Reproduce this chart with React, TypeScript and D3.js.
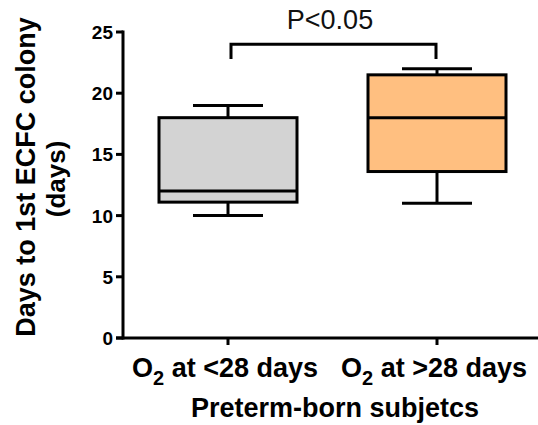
import React from 'react';
import * as d3 from 'd3';

// groups and five-number summaries
const groups = ['<28', '>28'];
const whiskerLow = [10, 11];
const q1 = [11.1, 13.6];
const median = [12, 18];
const q3 = [18, 21.5];
const whiskerHigh = [19, 22];
const fills = ['#d3d3d3', '#ffbf80'];
const yTicks = [0, 5, 10, 15, 20, 25];

const W = 538;
const H = 425;
const font = 'Liberation Sans, Arial, sans-serif';

const App = () => {
    const x = d3.scalePoint<string>().domain(groups).range([228, 437]);
    const y = d3.scaleLinear().domain([0, 25]).range([338, 32]);
    const boxW = 138;
    const capW = 70;

    return (
        <svg width={W} height={H} style={{ display: 'block', position: 'absolute', left: 0, top: 0 }}>
            <rect width={W} height={H} fill="#fff" />
            {/* Y axis */}
            <line x1={123} x2={123} y1={y(25) - 1.5} y2={y(0) + 1.5} stroke="#000" strokeWidth={3} />
            {yTicks.map(t => (
                <g key={t}>
                    <line x1={116} x2={123} y1={y(t)} y2={y(t)} stroke="#000" strokeWidth={3} />
                    <text x={113} y={y(t) + 7} textAnchor="end" fontFamily={font} fontWeight="bold" fontSize={19}>{t}</text>
                </g>
            ))}
            {/* X axis */}
            <line x1={116} x2={538} y1={y(0)} y2={y(0)} stroke="#000" strokeWidth={3} />
            {groups.map((g, i) => (
                <g key={g}>
                    <line x1={x(g)} x2={x(g)} y1={y(0)} y2={y(0) + 7} stroke="#000" strokeWidth={3} />
                    <text x={(x(g) as number) - 3} y={377} textAnchor="middle" fontFamily={font} fontWeight="bold" fontSize={27}>
                        O<tspan fontSize={20} dy={8}>2</tspan><tspan dy={-8}> at {g} days</tspan>
                    </text>
                </g>
            ))}
            {/* boxes */}
            {groups.map((g, i) => {
                const cx = x(g) as number;
                return (
                    <g key={g} stroke="#000" strokeWidth={3}>
                        <line x1={cx} x2={cx} y1={y(whiskerHigh[i])} y2={y(q3[i])} />
                        <line x1={cx} x2={cx} y1={y(q1[i])} y2={y(whiskerLow[i])} />
                        <line x1={cx - capW / 2} x2={cx + capW / 2} y1={y(whiskerHigh[i])} y2={y(whiskerHigh[i])} />
                        <line x1={cx - capW / 2} x2={cx + capW / 2} y1={y(whiskerLow[i])} y2={y(whiskerLow[i])} />
                        <rect x={cx - boxW / 2} y={y(q3[i])} width={boxW} height={y(q1[i]) - y(q3[i])} fill={fills[i]} />
                        <line x1={cx - boxW / 2} x2={cx + boxW / 2} y1={y(median[i])} y2={y(median[i])} />
                    </g>
                );
            })}
            {/* significance bracket */}
            <path
                d={`M${x(groups[0]) as number + 3},${y(22.8)} V${y(24.0)} H${x(groups[1]) as number - 1} V${y(22.8)}`}
                fill="none" stroke="#000" strokeWidth={3}
            />
            <text x={330} y={29} textAnchor="middle" fontFamily={font} fontSize={27} fill="#111">P&lt;0.05</text>
            {/* axis titles */}
            <text transform="translate(35,177) rotate(-90)" textAnchor="middle" fontFamily={font} fontWeight="bold" fontSize={27}>Days to 1st ECFC colony</text>
            <text transform="translate(65,179) rotate(-90)" textAnchor="middle" fontFamily={font} fontWeight="bold" fontSize={26}>(days)</text>
            <text x={335} y={417} textAnchor="middle" fontFamily={font} fontWeight="bold" fontSize={27}>Preterm-born subjetcs</text>
        </svg>
    );
};

export default App;
